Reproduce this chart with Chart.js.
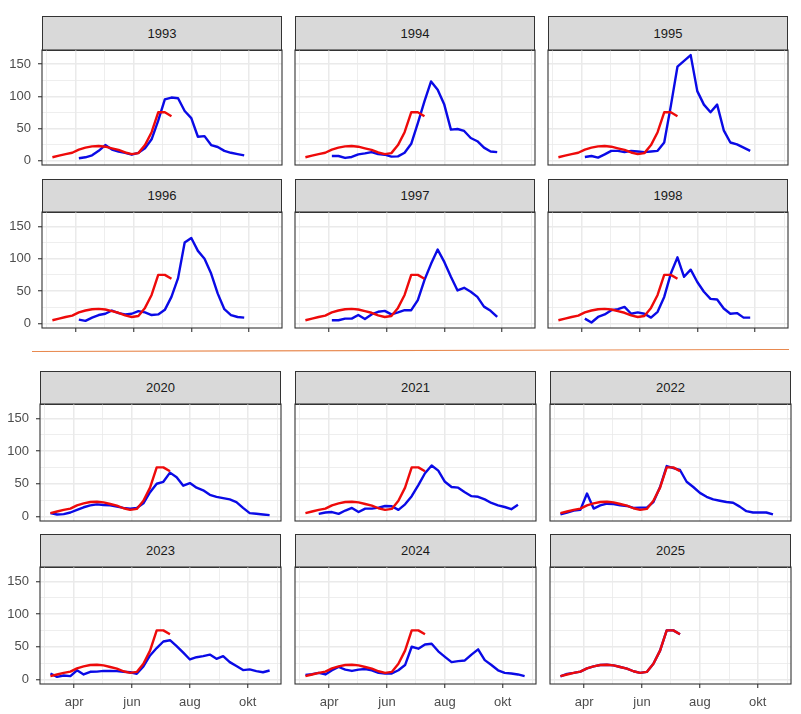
<!DOCTYPE html>
<html>
<head>
<meta charset="utf-8">
<script src="https://cdn.jsdelivr.net/npm/chart.js@4.4.1/dist/chart.umd.min.js"></script>
<style>
  body { margin: 0; background: #fff; }
  #wrap { position: relative; width: 801px; height: 714px; overflow: hidden; font-family: "Liberation Sans", Arial, sans-serif; }
  .strip { position: absolute; box-sizing: border-box; background: #D9D9D9; border: 1px solid #333; color: #1A1A1A; font-size: 13px; text-align: center; }
  canvas { position: absolute; }
</style>
</head>
<body>
<div id="wrap"></div>
<script>
// weekly points, x = day of year
const weekDays = [65, 72, 79, 86, 93, 100, 107, 114, 121, 128, 135, 142, 149, 156, 163, 170, 177,
  184, 191, 198, 205, 212, 219, 226, 233, 240, 247, 254, 261, 268, 275, 282, 289, 296];

const majorDays = [90, 151, 212, 273];
const majorLabels = ['apr', 'jun', 'aug', 'okt'];
const minorDays = [59, 120, 181, 243, 304];
const yMajor = [0, 50, 100, 150];
const yMinor = [25, 75, 125];

const years = [1993, 1994, 1995, 1996, 1997, 1998, 2020, 2021, 2022, 2023, 2024, 2025];
const blueStart = [4, 4, 4, 4, 4, 4, 0, 2, 0, 0, 0, 0];

// red line (same in every panel)
const redValues = [5, 7.5, 10, 12, 17, 20, 22, 22.5, 21.5, 19, 16.5, 12.5, 10, 11.5, 24, 44, 75, 75, 69];

const blue1993 = [3.5, 5, 8, 15, 24, 17, 14, 12, 9, 12, 19, 33, 62, 95, 98, 97, 77, 66, 37, 38, 24, 21, 15, 12, 10, 8];
const blue1994 = [7, 7, 4, 5.5, 9.5, 11, 13, 10, 9, 6, 6.5, 12, 26, 58, 92, 123, 110, 87, 48, 49, 46, 35, 30, 20, 14, 13];
const blue1995 = [5.5, 7, 4.5, 9.5, 15, 15, 13, 15, 14, 13, 14, 15, 28, 85, 146, 155, 164, 108, 87, 75, 87, 47, 28, 25, 20, 15];
const blue1996 = [6, 4, 9, 13, 15, 20, 16, 14, 15, 19, 17, 13, 14, 21, 41, 70, 125, 132, 112, 100, 77, 46, 22, 13, 10, 9];
const blue1997 = [5, 5, 7.5, 7.5, 13, 7, 14, 18, 19.5, 14, 17, 20.5, 20.5, 36, 67, 92, 114, 95, 72, 51, 55, 49, 41, 26, 19.5, 10];
const blue1998 = [7.5, 1.5, 10, 14, 20.5, 22, 25.5, 15, 17, 15, 9, 18, 41, 77, 102, 72, 83, 64, 49, 38, 37, 23, 15, 16, 9, 9];
const blue2020 = [5, 3, 3.5, 6, 10, 14, 17, 18.5, 17.5, 17, 15, 13, 12, 13, 20, 37, 50, 53, 67, 60, 47, 51, 44, 40, 33, 30, 28, 26, 22, 13, 5, 4, 3, 2];
const blue2021 = [4, 6, 6.7, 4, 9, 13, 6.7, 12, 12, 13.4, 16, 15.5, 10, 18.5, 31, 48, 66, 78, 70, 53, 45, 44, 37, 31, 30, 26, 20.6, 17, 14.4, 11, 18];
const blue2022 = [3, 6, 9, 10, 35, 12, 17, 19.5, 19, 17, 16, 13, 13.5, 13.5, 22, 45, 77, 74, 71, 53, 45, 36, 30, 26, 24, 22, 21, 15, 8, 6, 6, 6, 3];
const blue2023 = [9, 4, 6, 5, 14, 7.6, 11.7, 12, 13, 13, 12.7, 11.7, 11, 8.7, 20, 36.7, 48, 58, 60, 51, 41, 30.5, 34, 35.6, 38, 31.6, 35.6, 26.5, 20.4, 14.3, 15.3, 12.7, 11, 13.7];
const blue2024 = [7, 8, 10, 7.6, 14, 19, 15, 13, 15, 16, 14, 10, 9, 9, 14, 22, 50, 47, 53.5, 54.5, 43, 34.6, 26.5, 28, 29, 38, 46, 29.5, 22, 14, 10, 9, 7.6, 5];
const blue2025 = [4.5, 8.5, 10, 12, 17, 20, 22, 22.5, 21.5, 19, 16.5, 12.5, 10, 11.5, 24, 44, 75, 75, 69];

const blueValues = [blue1993, blue1994, blue1995, blue1996, blue1997, blue1998,
  blue2020, blue2021, blue2022, blue2023, blue2024, blue2025];

// layout (pixels)
const groups = [
  { lefts: [42, 295, 548], width: 240, strips: [16, 179], tops: [50, 212], heights: [115, 116] },
  { lefts: [40, 295, 550], width: 241, strips: [371, 534], tops: [404, 567], heights: [117, 117] }
];

const FONT = '"Liberation Sans", Arial, sans-serif';
const wrap = document.getElementById('wrap');

function toPoints(values, start) {
  return values.map((v, i) => ({ x: weekDays[start + i], y: v }));
}

function noScalePadding(s) {
  s.paddingTop = 0; s.paddingBottom = 0; s.paddingLeft = 0; s.paddingRight = 0;
}

const panelBorder = {
  id: 'panelBorder',
  afterDraw(chart) {
    const a = chart.chartArea, c = chart.ctx;
    c.save();
    c.strokeStyle = '#333333';
    c.lineWidth = 1.1;
    c.strokeRect(a.left, a.top, a.right - a.left, a.bottom - a.top);
    c.restore();
  }
};

const xTicks = minorDays.concat(majorDays).sort((a, b) => a - b);
const yTicks = yMajor.concat(yMinor).sort((a, b) => a - b);

years.forEach((year, idx) => {
  const g = groups[Math.floor(idx / 6)];
  const row = Math.floor((idx % 6) / 3);
  const col = idx % 3;
  const L = g.lefts[col], W = g.width, T = g.tops[row], H = g.heights[row];
  const showXTicks = row === 1;
  const showXLabels = row === 1 && idx >= 6;
  const axisW = col === 0 ? 40 : 4;

  const strip = document.createElement('div');
  strip.className = 'strip';
  strip.style.left = L + 'px';
  strip.style.top = g.strips[row] + 'px';
  strip.style.width = W + 'px';
  strip.style.height = (T - g.strips[row] + 1) + 'px';
  strip.style.lineHeight = (T - g.strips[row] - 1) + 'px';
  strip.textContent = year;
  wrap.appendChild(strip);

  const cv = document.createElement('canvas');
  cv.width = axisW + W + 2;
  cv.height = 2 + H + 28;
  cv.style.left = (L - axisW) + 'px';
  cv.style.top = (T - 2) + 'px';
  wrap.appendChild(cv);

  new Chart(cv, {
    type: 'line',
    data: {
      datasets: [
        { data: toPoints(redValues, 0), borderColor: '#EE0A0A' },
        { data: toPoints(blueValues[idx], blueStart[idx]), borderColor: '#0A0AE6' }
      ]
    },
    options: {
      responsive: false,
      animation: false,
      layout: { autoPadding: false, padding: { top: 2, right: 2, left: 0, bottom: 0 } },
      plugins: { legend: { display: false }, tooltip: { enabled: false } },
      elements: {
        point: { radius: 0 },
        line: { tension: 0, borderWidth: 2.4, borderJoinStyle: 'round', borderCapStyle: 'butt' }
      },
      scales: {
        x: {
          type: 'linear', min: 54, max: 308,
          afterBuildTicks: s => { s.ticks = xTicks.map(v => ({ value: v })); },
          afterFit: s => { s.height = 28; noScalePadding(s); },
          border: { display: false },
          grid: {
            color: '#EAEAEA',
            lineWidth: ctx => (ctx.tick && majorDays.includes(ctx.tick.value)) ? 1.5 : 0.8,
            drawTicks: true, tickLength: 4, tickWidth: 1.1,
            tickColor: ctx => (showXTicks && ctx.tick && majorDays.includes(ctx.tick.value)) ? '#333333' : 'rgba(0,0,0,0)'
          },
          ticks: {
            autoSkip: false, maxRotation: 0, padding: 7, color: '#4D4D4D',
            font: { family: FONT, size: 13 },
            callback: v => {
              const i = majorDays.indexOf(v);
              return (showXLabels && i >= 0) ? majorLabels[i] : '';
            }
          }
        },
        y: {
          min: -7, max: 172,
          afterBuildTicks: s => { s.ticks = yTicks.map(v => ({ value: v })); },
          afterFit: s => { s.width = axisW; noScalePadding(s); },
          border: { display: false },
          grid: {
            color: '#EAEAEA',
            lineWidth: ctx => (ctx.tick && yMajor.includes(ctx.tick.value)) ? 1.5 : 0.8,
            drawTicks: true, tickLength: 4, tickWidth: 1.1,
            tickColor: ctx => (col === 0 && ctx.tick && yMajor.includes(ctx.tick.value)) ? '#333333' : 'rgba(0,0,0,0)'
          },
          ticks: {
            autoSkip: false, padding: 7, color: '#4D4D4D',
            font: { family: FONT, size: 13 },
            callback: v => (col === 0 && yMajor.includes(v)) ? String(v) : ''
          }
        }
      }
    },
    plugins: [panelBorder]
  });
});

// orange separator between the two groups
const sep = document.createElementNS('http://www.w3.org/2000/svg', 'svg');
sep.setAttribute('width', '801');
sep.setAttribute('height', '714');
sep.style.position = 'absolute';
sep.style.left = '0';
sep.style.top = '0';
sep.innerHTML = '<line x1="32" y1="351.5" x2="789" y2="349.5" stroke="#E8894F" stroke-width="1.1"/>';
wrap.appendChild(sep);
</script>
</body>
</html>
